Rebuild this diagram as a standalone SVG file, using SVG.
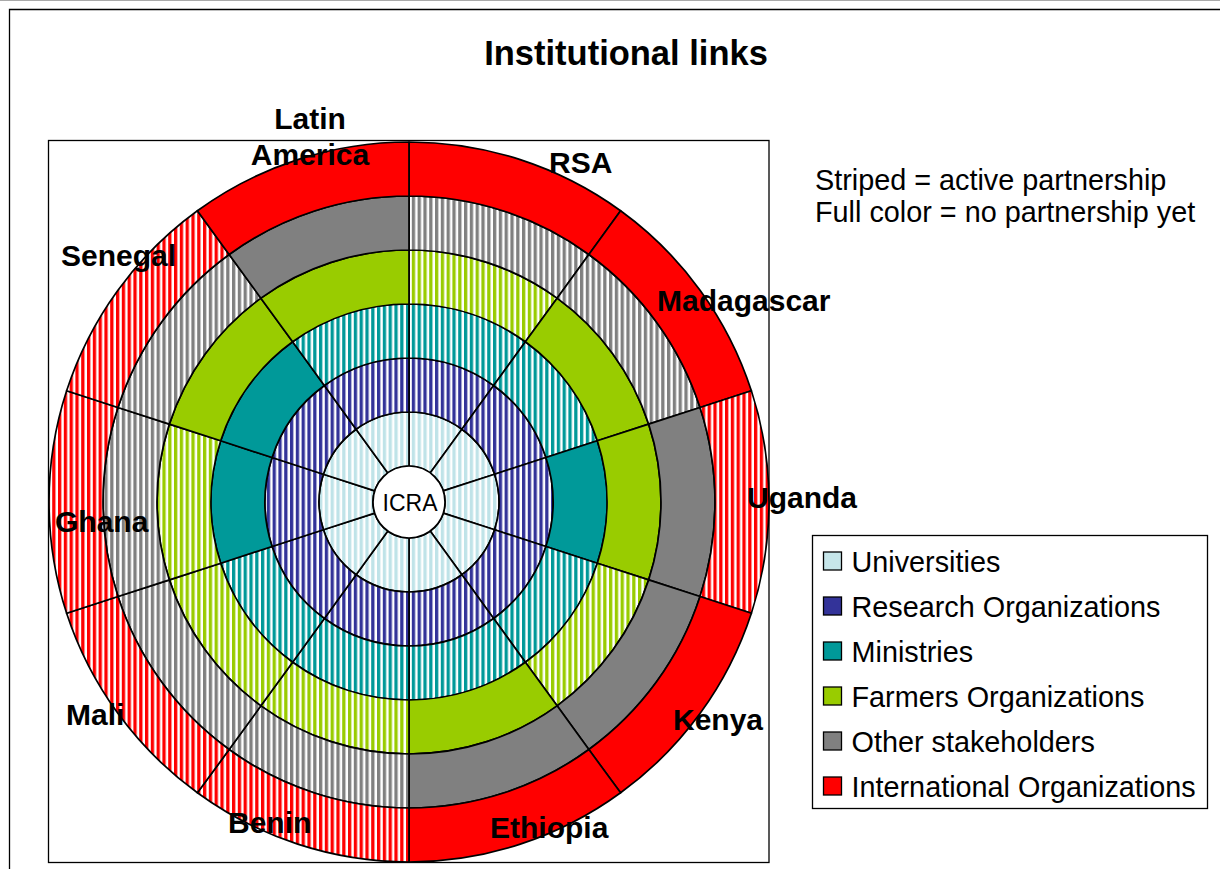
<svg xmlns="http://www.w3.org/2000/svg" width="1220" height="869" viewBox="0 0 1220 869">
<style>
.c{stroke:#000;stroke-width:1.7;stroke-linejoin:round}
.sU{fill:url(#pU)}.sR{fill:url(#pR)}.sM{fill:url(#pM)}.fM{fill:#009999}
.sF{fill:url(#pF)}.fF{fill:#99CC00}.sO{fill:url(#pO)}.fO{fill:#808080}
.sI{fill:url(#pI)}.fI{fill:#FF0000}
.lbl{font-family:"Liberation Sans",Arial,sans-serif;font-weight:bold;font-size:30px;fill:#000}
.leg{font-family:"Liberation Sans",Arial,sans-serif;font-size:28.8px;fill:#000}
.sq{stroke:#000;stroke-width:1.3}
</style>
<defs>
<pattern id="pU" patternUnits="userSpaceOnUse" width="5.8" height="10"><rect width="5.8" height="10" fill="#fff"/><rect width="3.3" height="10" fill="#BFE3E8"/></pattern>
<pattern id="pR" patternUnits="userSpaceOnUse" width="5.8" height="10"><rect width="5.8" height="10" fill="#fff"/><rect width="3.3" height="10" fill="#333399"/></pattern>
<pattern id="pM" patternUnits="userSpaceOnUse" width="5.8" height="10"><rect width="5.8" height="10" fill="#fff"/><rect width="3.3" height="10" fill="#009999"/></pattern>
<pattern id="pF" patternUnits="userSpaceOnUse" width="5.8" height="10"><rect width="5.8" height="10" fill="#fff"/><rect width="3.3" height="10" fill="#99CC00"/></pattern>
<pattern id="pO" patternUnits="userSpaceOnUse" width="5.8" height="10"><rect width="5.8" height="10" fill="#fff"/><rect width="3.3" height="10" fill="#808080"/></pattern>
<pattern id="pI" patternUnits="userSpaceOnUse" width="5.8" height="10"><rect width="5.8" height="10" fill="#fff"/><rect width="3.3" height="10" fill="#FF0000"/></pattern>
</defs>
<rect width="1220" height="869" fill="#fff"/>
<line x1="0" y1="0.5" x2="1220" y2="0.5" stroke="#aaa" stroke-width="1"/>
<path d="M9.5,869 V9.5 H1220" fill="none" stroke="#000" stroke-width="1.3"/>
<text x="626" y="65" text-anchor="middle" style="font-family:'Liberation Sans',Arial,sans-serif;font-weight:bold;font-size:34.5px">Institutional links</text>
<rect x="48.5" y="140.5" width="720.5" height="722" fill="none" stroke="#000" stroke-width="1.3"/>

<g id="rsa">
<path class="c sU" d="M409,412 A90,90 0 0 1 461.90,429.19 L430.16,472.88 A36,36 0 0 0 409,466 Z"/>
<path class="c sR" d="M409,358 A144,144 0 0 1 493.64,385.50 L461.90,429.19 A90,90 0 0 0 409,412 Z"/>
<path class="c sM" d="M409,304 A198,198 0 0 1 525.38,341.81 L493.64,385.50 A144,144 0 0 0 409,358 Z"/>
<path class="c sF" d="M409,250 A252,252 0 0 1 557.12,298.13 L525.38,341.81 A198,198 0 0 0 409,304 Z"/>
<path class="c sO" d="M409,196 A306,306 0 0 1 588.86,254.44 L557.12,298.13 A252,252 0 0 0 409,250 Z"/>
<path class="c fI" d="M409,142 A360,360 0 0 1 620.60,210.75 L588.86,254.44 A306,306 0 0 0 409,196 Z"/>
<text class="lbl" x="549" y="173">RSA</text>
</g>
<g id="madagascar">
<path class="c sU" d="M461.90,429.19 A90,90 0 0 1 494.60,474.19 L443.24,490.88 A36,36 0 0 0 430.16,472.88 Z"/>
<path class="c sR" d="M493.64,385.50 A144,144 0 0 1 545.95,457.50 L494.60,474.19 A90,90 0 0 0 461.90,429.19 Z"/>
<path class="c sM" d="M525.38,341.81 A198,198 0 0 1 597.31,440.81 L545.95,457.50 A144,144 0 0 0 493.64,385.50 Z"/>
<path class="c fF" d="M557.12,298.13 A252,252 0 0 1 648.67,424.13 L597.31,440.81 A198,198 0 0 0 525.38,341.81 Z"/>
<path class="c sO" d="M588.86,254.44 A306,306 0 0 1 700.02,407.44 L648.67,424.13 A252,252 0 0 0 557.12,298.13 Z"/>
<path class="c fI" d="M620.60,210.75 A360,360 0 0 1 751.38,390.75 L700.02,407.44 A306,306 0 0 0 588.86,254.44 Z"/>
<text class="lbl" x="657" y="310.5">Madagascar</text>
</g>
<g id="uganda">
<path class="c sU" d="M494.60,474.19 A90,90 0 0 1 494.60,529.81 L443.24,513.12 A36,36 0 0 0 443.24,490.88 Z"/>
<path class="c sR" d="M545.95,457.50 A144,144 0 0 1 545.95,546.50 L494.60,529.81 A90,90 0 0 0 494.60,474.19 Z"/>
<path class="c fM" d="M597.31,440.81 A198,198 0 0 1 597.31,563.19 L545.95,546.50 A144,144 0 0 0 545.95,457.50 Z"/>
<path class="c fF" d="M648.67,424.13 A252,252 0 0 1 648.67,579.87 L597.31,563.19 A198,198 0 0 0 597.31,440.81 Z"/>
<path class="c fO" d="M700.02,407.44 A306,306 0 0 1 700.02,596.56 L648.67,579.87 A252,252 0 0 0 648.67,424.13 Z"/>
<path class="c sI" d="M751.38,390.75 A360,360 0 0 1 751.38,613.25 L700.02,596.56 A306,306 0 0 0 700.02,407.44 Z"/>
<text class="lbl" x="747" y="508">Uganda</text>
</g>
<g id="kenya">
<path class="c sU" d="M494.60,529.81 A90,90 0 0 1 461.90,574.81 L430.16,531.12 A36,36 0 0 0 443.24,513.12 Z"/>
<path class="c sR" d="M545.95,546.50 A144,144 0 0 1 493.64,618.50 L461.90,574.81 A90,90 0 0 0 494.60,529.81 Z"/>
<path class="c sM" d="M597.31,563.19 A198,198 0 0 1 525.38,662.19 L493.64,618.50 A144,144 0 0 0 545.95,546.50 Z"/>
<path class="c sF" d="M648.67,579.87 A252,252 0 0 1 557.12,705.87 L525.38,662.19 A198,198 0 0 0 597.31,563.19 Z"/>
<path class="c fO" d="M700.02,596.56 A306,306 0 0 1 588.86,749.56 L557.12,705.87 A252,252 0 0 0 648.67,579.87 Z"/>
<path class="c fI" d="M751.38,613.25 A360,360 0 0 1 620.60,792.75 L588.86,749.56 A306,306 0 0 0 700.02,596.56 Z"/>
<text class="lbl" x="673" y="730">Kenya</text>
</g>
<g id="ethiopia">
<path class="c sU" d="M461.90,574.81 A90,90 0 0 1 409,592 L409,538 A36,36 0 0 0 430.16,531.12 Z"/>
<path class="c sR" d="M493.64,618.50 A144,144 0 0 1 409,646 L409,592 A90,90 0 0 0 461.90,574.81 Z"/>
<path class="c sM" d="M525.38,662.19 A198,198 0 0 1 409,700 L409,646 A144,144 0 0 0 493.64,618.50 Z"/>
<path class="c fF" d="M557.12,705.87 A252,252 0 0 1 409,754 L409,700 A198,198 0 0 0 525.38,662.19 Z"/>
<path class="c fO" d="M588.86,749.56 A306,306 0 0 1 409,808 L409,754 A252,252 0 0 0 557.12,705.87 Z"/>
<path class="c fI" d="M620.60,792.75 A360,360 0 0 1 409,862 L409,808 A306,306 0 0 0 588.86,749.56 Z"/>
<text class="lbl" x="490" y="838">Ethiopia</text>
</g>
<g id="benin">
<path class="c sU" d="M409,592 A90,90 0 0 1 356.10,574.81 L387.84,531.12 A36,36 0 0 0 409,538 Z"/>
<path class="c sR" d="M409,646 A144,144 0 0 1 324.36,618.50 L356.10,574.81 A90,90 0 0 0 409,592 Z"/>
<path class="c sM" d="M409,700 A198,198 0 0 1 292.62,662.19 L324.36,618.50 A144,144 0 0 0 409,646 Z"/>
<path class="c sF" d="M409,754 A252,252 0 0 1 260.88,705.87 L292.62,662.19 A198,198 0 0 0 409,700 Z"/>
<path class="c sO" d="M409,808 A306,306 0 0 1 229.14,749.56 L260.88,705.87 A252,252 0 0 0 409,754 Z"/>
<path class="c sI" d="M409,862 A360,360 0 0 1 197.40,792.75 L229.14,749.56 A306,306 0 0 0 409,808 Z"/>
<text class="lbl" x="228" y="833">Benin</text>
</g>
<g id="mali">
<path class="c sU" d="M356.10,574.81 A90,90 0 0 1 323.40,529.81 L374.76,513.12 A36,36 0 0 0 387.84,531.12 Z"/>
<path class="c sR" d="M324.36,618.50 A144,144 0 0 1 272.05,546.50 L323.40,529.81 A90,90 0 0 0 356.10,574.81 Z"/>
<path class="c sM" d="M292.62,662.19 A198,198 0 0 1 220.69,563.19 L272.05,546.50 A144,144 0 0 0 324.36,618.50 Z"/>
<path class="c sF" d="M260.88,705.87 A252,252 0 0 1 169.33,579.87 L220.69,563.19 A198,198 0 0 0 292.62,662.19 Z"/>
<path class="c sO" d="M229.14,749.56 A306,306 0 0 1 117.98,596.56 L169.33,579.87 A252,252 0 0 0 260.88,705.87 Z"/>
<path class="c sI" d="M197.40,792.75 A360,360 0 0 1 66.62,613.25 L117.98,596.56 A306,306 0 0 0 229.14,749.56 Z"/>
<text class="lbl" x="66" y="725">Mali</text>
</g>
<g id="ghana">
<path class="c sU" d="M323.40,529.81 A90,90 0 0 1 323.40,474.19 L374.76,490.88 A36,36 0 0 0 374.76,513.12 Z"/>
<path class="c sR" d="M272.05,546.50 A144,144 0 0 1 272.05,457.50 L323.40,474.19 A90,90 0 0 0 323.40,529.81 Z"/>
<path class="c fM" d="M220.69,563.19 A198,198 0 0 1 220.69,440.81 L272.05,457.50 A144,144 0 0 0 272.05,546.50 Z"/>
<path class="c sF" d="M169.33,579.87 A252,252 0 0 1 169.33,424.13 L220.69,440.81 A198,198 0 0 0 220.69,563.19 Z"/>
<path class="c sO" d="M117.98,596.56 A306,306 0 0 1 117.98,407.44 L169.33,424.13 A252,252 0 0 0 169.33,579.87 Z"/>
<path class="c sI" d="M66.62,613.25 A360,360 0 0 1 66.62,390.75 L117.98,407.44 A306,306 0 0 0 117.98,596.56 Z"/>
<text class="lbl" x="55" y="532">Ghana</text>
</g>
<g id="senegal">
<path class="c sU" d="M323.40,474.19 A90,90 0 0 1 356.10,429.19 L387.84,472.88 A36,36 0 0 0 374.76,490.88 Z"/>
<path class="c sR" d="M272.05,457.50 A144,144 0 0 1 324.36,385.50 L356.10,429.19 A90,90 0 0 0 323.40,474.19 Z"/>
<path class="c fM" d="M220.69,440.81 A198,198 0 0 1 292.62,341.81 L324.36,385.50 A144,144 0 0 0 272.05,457.50 Z"/>
<path class="c fF" d="M169.33,424.13 A252,252 0 0 1 260.88,298.13 L292.62,341.81 A198,198 0 0 0 220.69,440.81 Z"/>
<path class="c sO" d="M117.98,407.44 A306,306 0 0 1 229.14,254.44 L260.88,298.13 A252,252 0 0 0 169.33,424.13 Z"/>
<path class="c sI" d="M66.62,390.75 A360,360 0 0 1 197.40,210.75 L229.14,254.44 A306,306 0 0 0 117.98,407.44 Z"/>
<text class="lbl" x="61" y="266">Senegal</text>
</g>
<g id="latin-america">
<path class="c sU" d="M356.10,429.19 A90,90 0 0 1 409,412 L409,466 A36,36 0 0 0 387.84,472.88 Z"/>
<path class="c sR" d="M324.36,385.50 A144,144 0 0 1 409,358 L409,412 A90,90 0 0 0 356.10,429.19 Z"/>
<path class="c sM" d="M292.62,341.81 A198,198 0 0 1 409,304 L409,358 A144,144 0 0 0 324.36,385.50 Z"/>
<path class="c fF" d="M260.88,298.13 A252,252 0 0 1 409,250 L409,304 A198,198 0 0 0 292.62,341.81 Z"/>
<path class="c fO" d="M229.14,254.44 A306,306 0 0 1 409,196 L409,250 A252,252 0 0 0 260.88,298.13 Z"/>
<path class="c fI" d="M197.40,210.75 A360,360 0 0 1 409,142 L409,196 A306,306 0 0 0 229.14,254.44 Z"/>
<text class="lbl" x="310" y="129" text-anchor="middle">Latin</text>
<text class="lbl" x="310" y="165" text-anchor="middle">America</text>
</g>
<g id="icra">
<circle cx="409" cy="502" r="36" fill="#fff" stroke="#000" stroke-width="1.7"/>
<text x="410" y="511" text-anchor="middle" style="font-family:'Liberation Sans',Arial,sans-serif;font-size:23px">ICRA</text>
</g>

<g id="note">
<text class="leg" x="815" y="190">Striped = active partnership</text>
<text class="leg" x="815" y="222">Full color = no partnership yet</text>
</g>

<g id="legend">
<rect x="812.5" y="535.5" width="395" height="273" fill="#fff" stroke="#000" stroke-width="1.3"/>
<rect class="sq" x="823.5" y="552" width="18" height="18" fill="#C6E6EA"/>
<text class="leg" x="851.5" y="571.5">Universities</text>
<rect class="sq" x="823.5" y="597" width="18" height="18" fill="#333399"/>
<text class="leg" x="851.5" y="616.5">Research Organizations</text>
<rect class="sq" x="823.5" y="642" width="18" height="18" fill="#009999"/>
<text class="leg" x="851.5" y="661.5">Ministries</text>
<rect class="sq" x="823.5" y="687" width="18" height="18" fill="#99CC00"/>
<text class="leg" x="851.5" y="706.5">Farmers Organizations</text>
<rect class="sq" x="823.5" y="732" width="18" height="18" fill="#808080"/>
<text class="leg" x="851.5" y="751.5">Other stakeholders</text>
<rect class="sq" x="823.5" y="777" width="18" height="18" fill="#FF0000"/>
<text class="leg" x="851.5" y="796.5">International Organizations</text>
</g>
</svg>
